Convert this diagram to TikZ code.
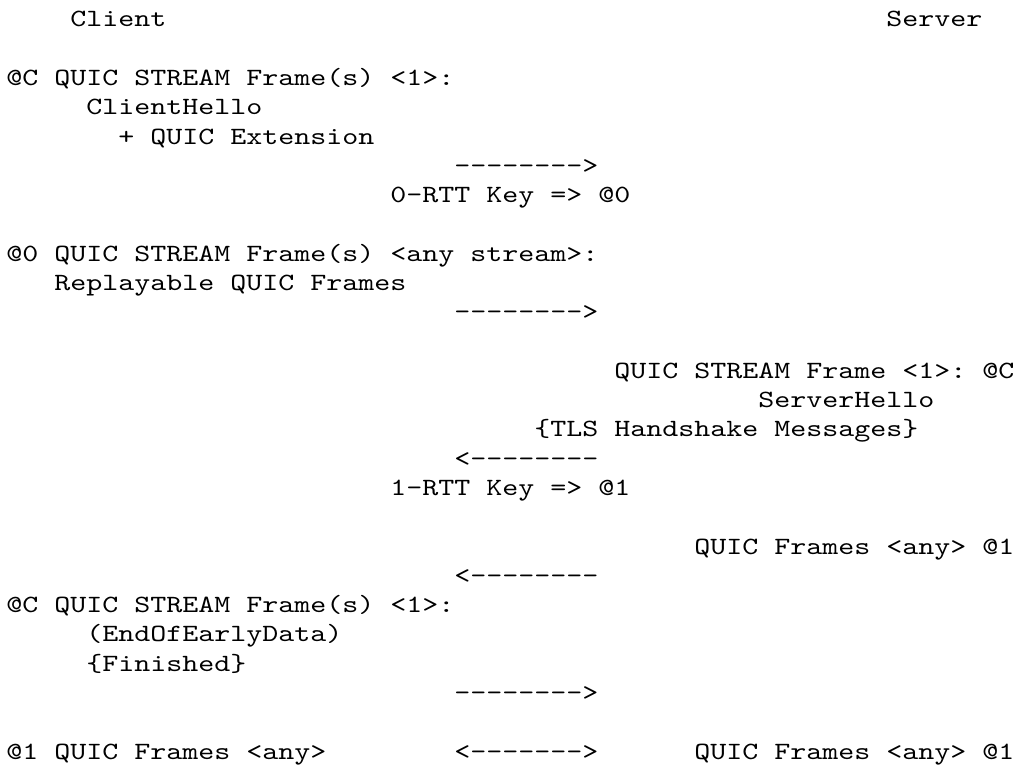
\documentclass[tikz,border=0pt]{standalone}
\usepackage{fontspec}
\newfontfamily\codefont{lmmono10-regular.otf}[FakeStretch=1.2289,Ligatures=TeXOff]
\newcommand\codesize{\codefont\fontsize{12.4pt}{14.64pt}\selectfont\fontdimen2\font=8pt\fontdimen3\font=0pt\fontdimen4\font=0pt\frenchspacing}
\tikzset{msg/.style={anchor=base west,inner sep=0pt,outer sep=0pt,font=\codesize}}
\begin{document}
\begin{tikzpicture}[x=8pt,y=-14.64pt]
			\useasboundingbox (-0.4,-0.922) rectangle (63.1,25.205);
			\begin{scope}
				\node[msg] (client) at (4,0) {Client};
				\node[msg] (server) at (55,0) {Server};
			\end{scope}
			% client hello, 0-RTT
			\begin{scope}
				\node[msg] (chead) at (0,2) {@C QUIC STREAM Frame(s) <1>:};
				\node[msg] (chello) at (5,3) {ClientHello};
				\node[msg] (cext) at (7,4) {+ QUIC Extension};
				\node[msg] (arrA) at (28,5) {-------->};
				\node[msg] (key0) at (24,6) {0-RTT Key => @0};
				\node[msg] (ehead) at (0,8) {@0 QUIC STREAM Frame(s) <any stream>:};
				\node[msg] (replay) at (3,9) {Replayable QUIC Frames};
				\node[msg] (arrB) at (28,10) {-------->};
			\end{scope}
			% server reply, 1-RTT
			\begin{scope}
				\node[msg] (shead) at (38,12) {QUIC STREAM Frame <1>: @C};
				\node[msg] (shello) at (47,13) {ServerHello};
				\node[msg] (stls) at (33,14) {\{TLS Handshake Messages\}};
				\node[msg] (arrC) at (28,15) {<--------};
				\node[msg] (key1) at (24,16) {1-RTT Key => @1};
				\node[msg] (sdata) at (43,18) {QUIC Frames <any> @1};
				\node[msg] (arrD) at (28,19) {<--------};
			\end{scope}
			% client finished
			\begin{scope}
				\node[msg] (fhead) at (0,20) {@C QUIC STREAM Frame(s) <1>:};
				\node[msg] (eoed) at (5,21) {(EndOfEarlyData)};
				\node[msg] (fin) at (5,22) {\{Finished\}};
				\node[msg] (arrE) at (28,23) {-------->};
				\node[msg] (cdata) at (0,25) {@1 QUIC Frames <any>};
				\node[msg] (arrF) at (28,25) {<------->};
				\node[msg] (sdata2) at (43,25) {QUIC Frames <any> @1};
			\end{scope}
		\end{tikzpicture}
\end{document}
